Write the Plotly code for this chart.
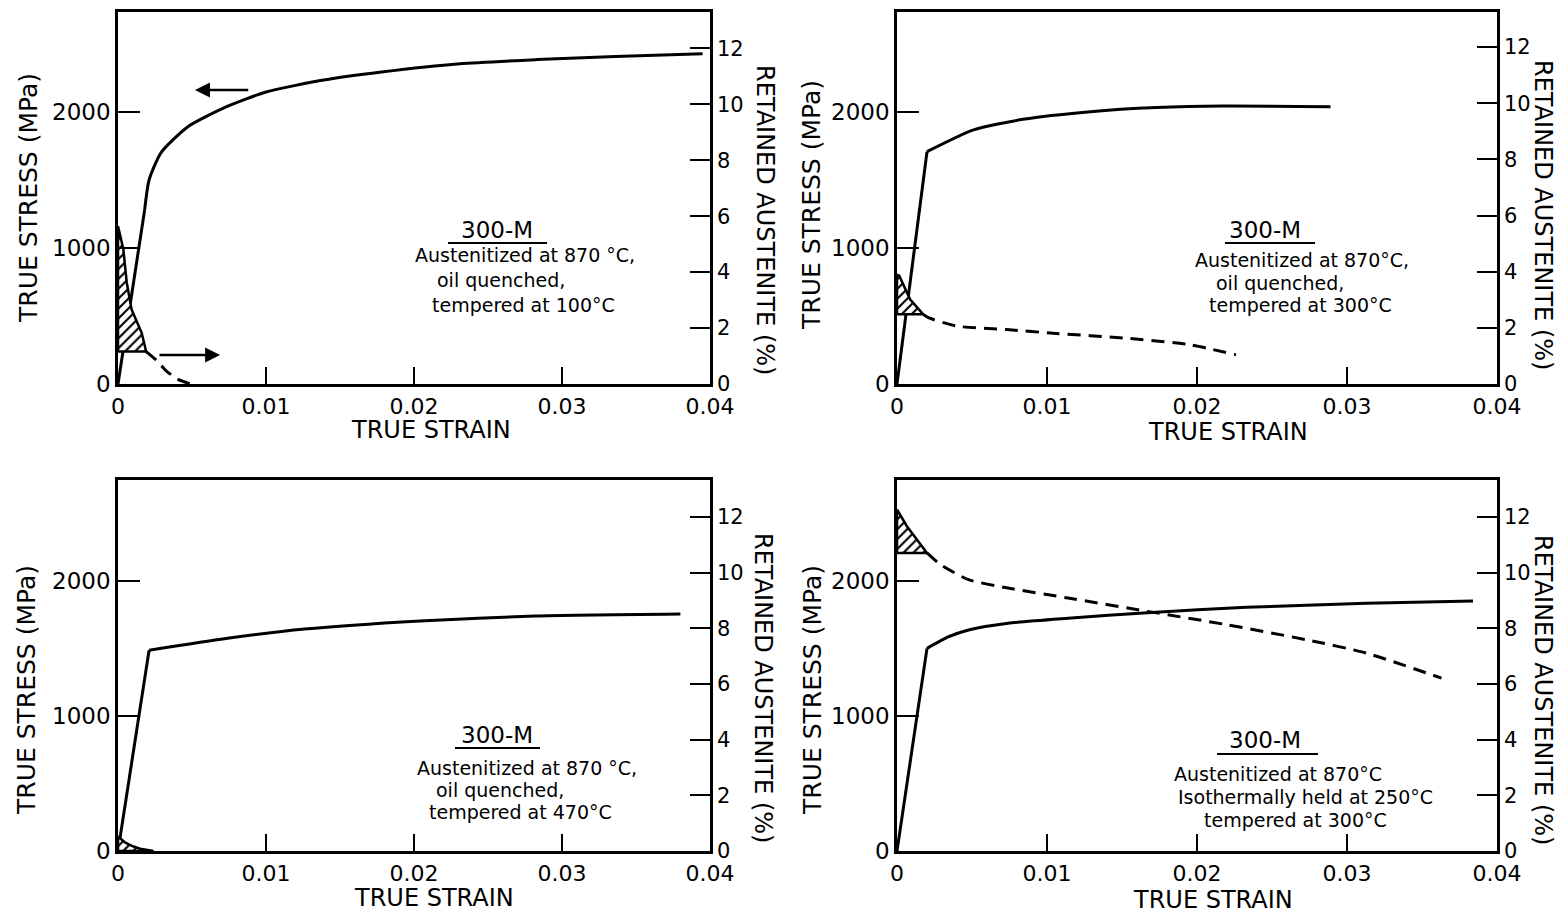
import plotly.graph_objects as go

# ---------------- data ----------------
# Panel 1: tempered at 100 C
p1_stress_strain = [0, 0.0018, 0.0021, 0.0029, 0.0047, 0.0073, 0.0100, 0.0139, 0.0178, 0.0231, 0.0283, 0.0336, 0.0395]
p1_stress = [0, 1280, 1500, 1700, 1890, 2037, 2147, 2235, 2294, 2355, 2385, 2408, 2428]
p1_ra_hatch_strain = [0, 0.00036, 0.00059, 0.00092, 0.0016, 0.0019]
p1_ra_hatch = [5.65, 4.82, 3.63, 2.66, 1.83, 1.16]
p1_ra_strain = [0.0019, 0.0026, 0.0032, 0.0040, 0.0049]
p1_ra = [1.16, 0.85, 0.50, 0.18, 0.0]

# Panel 2: tempered at 300 C
p2_stress_strain = [0, 0.0020, 0.0051, 0.0084, 0.0129, 0.0173, 0.0217, 0.0289]
p2_stress = [0, 1708, 1868, 1946, 2002, 2032, 2044, 2039]
p2_ra_hatch_strain = [0, 0.00015, 0.00087, 0.00175]
p2_ra_hatch = [3.9, 3.86, 3.02, 2.48]
p2_ra_strain = [0.00175, 0.0021, 0.0040, 0.0073, 0.0106, 0.0151, 0.0195, 0.0226]
p2_ra = [2.48, 2.36, 2.06, 1.94, 1.80, 1.64, 1.40, 1.04]

# Panel 3: tempered at 470 C
p3_stress_strain = [0, 0.0021, 0.0074, 0.0126, 0.0204, 0.0282, 0.0380]
p3_stress = [0, 1487, 1575, 1644, 1704, 1741, 1756]
p3_ra_hatch_strain = [0, 0.0005, 0.0010, 0.0015, 0.0024]
p3_ra_hatch = [0.52, 0.30, 0.17, 0.08, 0.0]

# Panel 4: isothermally held at 250 C, tempered at 300 C
p4_stress_strain = [0, 0.0020, 0.00345, 0.00477, 0.0074, 0.0114, 0.0167, 0.0233, 0.0313, 0.0384]
p4_stress = [0, 1501, 1587, 1637, 1687, 1724, 1765, 1805, 1835, 1852]
p4_ra_hatch_strain = [0, 0.00066, 0.0020]
p4_ra_hatch = [12.27, 11.67, 10.71]
p4_ra_strain = [0.0020, 0.0029, 0.00477, 0.0074, 0.0114, 0.0167, 0.0220, 0.0273, 0.0313, 0.0363]
p4_ra = [10.71, 10.29, 9.75, 9.45, 9.09, 8.61, 8.13, 7.59, 7.11, 6.21]

strain_ticks = [0, 0.01, 0.02, 0.03, 0.04]
strain_ticktext = ["0", "0.01", "0.02", "0.03", "0.04"]
stress_ticks = [0, 1000, 2000]
stress_ticktext = ["0", "1000", "2000"]
ra_ticks = [0, 2, 4, 6, 8, 10, 12]
ra_ticktext = ["0", "2", "4", "6", "8", "10", "12"]

panel_notes = [
    ["Austenitized at 870 °C,", "oil quenched,", "tempered at 100°C"],
    ["Austenitized at 870°C,", "oil quenched,", "tempered at 300°C"],
    ["Austenitized at 870 °C,", "oil quenched,", "tempered at 470°C"],
    ["Austenitized at 870°C", "Isothermally held at 250°C", "tempered at 300°C"],
]

# ---------------- layout geometry ----------------
W, H = 1556, 916
FONT = "DejaVu Sans"

def fx(px):
    return px / W

def fy(py):
    return 1 - py / H

panels = [
    dict(x0=118, x1=710, y0=12, y1=384, smax=2735, rmax=13.3),
    dict(x0=897, x1=1497, y0=12, y1=384, smax=2735, rmax=13.25),
    dict(x0=118, x1=710, y0=480, y1=851, smax=2748, rmax=13.33),
    dict(x0=897, x1=1497, y0=480, y1=851, smax=2748, rmax=13.33),
]

fig = go.Figure()
layout = dict(
    template="none",
    width=W, height=H,
    margin=dict(l=0, r=0, t=0, b=0, autoexpand=False),
    paper_bgcolor="white", plot_bgcolor="white",
    showlegend=False,
    font=dict(family=FONT, color="black", size=20),
)

for i, p in enumerate(panels):
    xi = i + 1
    xname = "xaxis" if xi == 1 else f"xaxis{xi}"
    xref = "x" if xi == 1 else f"x{xi}"
    yl = 2 * i + 1
    yr = 2 * i + 2
    ylname = "yaxis" if yl == 1 else f"yaxis{yl}"
    ylref = "y" if yl == 1 else f"y{yl}"
    yrname = f"yaxis{yr}"
    layout[xname] = dict(
        domain=[fx(p["x0"]), fx(p["x1"])], anchor=ylref, range=[0, 0.04],
        tickvals=strain_ticks, ticktext=strain_ticktext, automargin=False,
        ticks="inside", ticklen=17, tickwidth=2, tickcolor="black",
        showline=True, linewidth=2.5, linecolor="black", mirror=True,
        showgrid=False, zeroline=False, tickfont=dict(size=22, family=FONT),
        ticklabelstandoff=1,
    )
    layout[ylname] = dict(
        domain=[fy(p["y1"]), fy(p["y0"])], anchor=xref, range=[0, p["smax"]],
        tickvals=stress_ticks, ticktext=stress_ticktext, automargin=False,
        ticks="inside", ticklen=22, tickwidth=2, tickcolor="black",
        showline=True, linewidth=2.5, linecolor="black",
        showgrid=False, zeroline=False, tickfont=dict(size=23, family=FONT),
    )
    layout[yrname] = dict(
        overlaying=ylref, side="right", anchor=xref, range=[0, p["rmax"]],
        tickvals=ra_ticks, ticktext=ra_ticktext, automargin=False,
        ticks="inside", ticklen=20, tickwidth=2, tickcolor="black",
        showline=True, linewidth=2.5, linecolor="black",
        showgrid=False, zeroline=False, tickfont=dict(size=21, family=FONT),
    )

fig.update_layout(**layout)

LINE = dict(color="black", width=3)
SPL = dict(color="black", width=3, shape="spline", smoothing=0.6)
DASH = dict(color="black", width=3, dash="13px,8px", shape="spline", smoothing=0.6)

def stress_traces(xs, ys, xref, yref, k):
    # straight elastic part then a smooth hardening curve
    return [
        go.Scatter(x=xs[:k + 1], y=ys[:k + 1], xaxis=xref, yaxis=yref, mode="lines", line=LINE, hoverinfo="skip"),
        go.Scatter(x=xs[k:], y=ys[k:], xaxis=xref, yaxis=yref, mode="lines", line=SPL, hoverinfo="skip"),
    ]

def hatch_trace(xs, ys, xref, yref):
    # polygon: along the curve, then back along the horizontal base to the axis
    px = list(xs) + [0, 0]
    py = list(ys) + [ys[-1], ys[0]]
    return go.Scatter(
        x=px, y=py, xaxis=xref, yaxis=yref, mode="lines",
        line=dict(color="black", width=2.5), fill="toself",
        fillcolor="white",
        fillpattern=dict(shape="/", fgcolor="black", bgcolor="white", size=7, solidity=0.3),
        hoverinfo="skip",
    )

# Panel 1
fig.add_traces(stress_traces(p1_stress_strain, p1_stress, "x", "y", 1))
fig.add_trace(hatch_trace(p1_ra_hatch_strain, p1_ra_hatch, "x", "y2"))
fig.add_trace(go.Scatter(x=p1_ra_strain, y=p1_ra, xaxis="x", yaxis="y2", mode="lines", line=DASH, hoverinfo="skip"))
# Panel 2
fig.add_traces(stress_traces(p2_stress_strain, p2_stress, "x2", "y3", 1))
fig.add_trace(hatch_trace(p2_ra_hatch_strain, p2_ra_hatch, "x2", "y4"))
fig.add_trace(go.Scatter(x=p2_ra_strain, y=p2_ra, xaxis="x2", yaxis="y4", mode="lines", line=DASH, hoverinfo="skip"))
# Panel 3
fig.add_traces(stress_traces(p3_stress_strain, p3_stress, "x3", "y5", 1))
fig.add_trace(hatch_trace(p3_ra_hatch_strain, p3_ra_hatch, "x3", "y6"))
# Panel 4
fig.add_traces(stress_traces(p4_stress_strain, p4_stress, "x4", "y7", 1))
fig.add_trace(hatch_trace(p4_ra_hatch_strain, p4_ra_hatch, "x4", "y8"))
fig.add_trace(go.Scatter(x=p4_ra_strain, y=p4_ra, xaxis="x4", yaxis="y8", mode="lines", line=DASH, hoverinfo="skip"))

annotations = []
shapes = []

def txt(x, y, s, size=20, angle=0):
    annotations.append(dict(
        x=fx(x), y=fy(y), xref="paper", yref="paper", text=s, showarrow=False,
        textangle=angle, font=dict(size=size, family=FONT, color="black"),
        xanchor="center", yanchor="middle",
    ))

# axis titles
for cx, cy in [(28, 198), (812, 205), (26, 690), (812, 690)]:
    txt(cx, cy, "TRUE STRESS (MPa)", size=25, angle=-90)
for cx, cy in [(765, 220), (1543, 215), (763, 688), (1543, 690)]:
    txt(cx, cy, "RETAINED AUSTENITE (%)", size=24, angle=90)
for cx, cy in [(431, 430), (1228, 432), (434, 898), (1213, 900)]:
    txt(cx, cy, "TRUE STRAIN", size=24)

# notes
note_pos = [
    dict(title=(497, 230), ul=(448, 547, 243), lines=[(525, 255), (501, 280), (523, 305)]),
    dict(title=(1265, 230), ul=(1225, 1315, 243), lines=[(1302, 260), (1280, 283), (1300, 305)]),
    dict(title=(497, 735), ul=(455, 540, 748), lines=[(527, 768), (500, 790), (520, 812)]),
    dict(title=(1265, 740), ul=(1217, 1318, 754), lines=[(1278, 774), (1305, 797), (1295, 820)]),
]
for notes, pos in zip(panel_notes, note_pos):
    txt(pos["title"][0], pos["title"][1], "300-M", size=23)
    x0, x1, yy = pos["ul"]
    shapes.append(dict(type="line", xref="paper", yref="paper", x0=fx(x0), x1=fx(x1),
                       y0=fy(yy), y1=fy(yy), line=dict(color="black", width=2)))
    for s, (lx, ly) in zip(notes, pos["lines"]):
        txt(lx, ly, s, size=19)

# arrows in panel 1
annotations.append(dict(x=0.0052, y=2162, ax=0.0089, ay=2162, xref="x", yref="y", axref="x", ayref="y",
                        text="", showarrow=True, arrowhead=2, arrowsize=1.2, arrowwidth=2.5, arrowcolor="black"))
annotations.append(dict(x=0.0069, y=1.04, ax=0.0027, ay=1.04, xref="x", yref="y2", axref="x", ayref="y2",
                        text="", showarrow=True, arrowhead=2, arrowsize=1.2, arrowwidth=2.5, arrowcolor="black"))

fig.update_layout(annotations=annotations, shapes=shapes)
fig.write_html(
    "out.html",
    config={"displayModeBar": False},
    post_script="document.body.style.margin='0';document.body.style.overflow='hidden';",
)
